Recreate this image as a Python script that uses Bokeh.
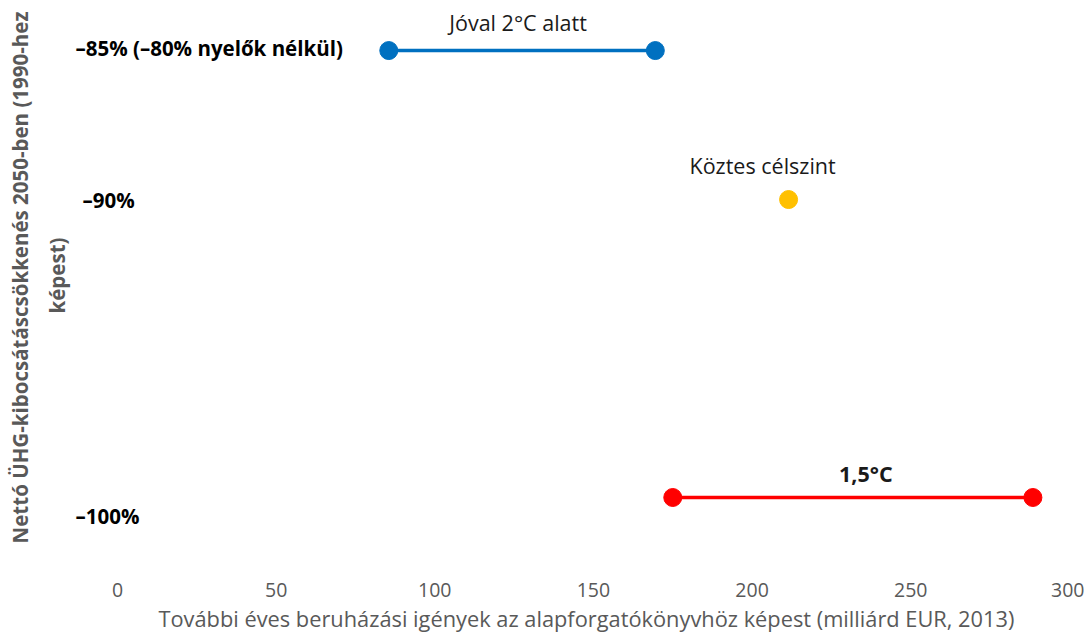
import math
from bokeh.plotting import figure
from bokeh.models import Range1d, FixedTicker, ColumnDataSource, Title
from bokeh.core.properties import value
from bokeh.embed import file_html
from bokeh.resources import INLINE

# Data
blue_x = [85.5, 169.5]
blue_y = [-85, -85]
yellow_x = [211.5]
yellow_y = [-90]
red_x = [175, 288.5]
red_y = [-100, -100]

series_names = ["Jóval 2°C alatt", "Köztes célszint", "1,5°C"]
y_levels = [-85, -90, -100]
y_labels = ["\u201385% (\u201380% nyelők nélkül)", "\u201390%", "\u2013100%"]
x_ticks = [0, 50, 100, 150, 200, 250, 300]
y_title = ["Nettó ÜHG-kibocsátáscsökkenés 2050-ben (1990-hez", "képest)"]
x_title = "További éves beruházási igények az alapforgatókönyvhöz képest (milliárd EUR, 2013)"

FONT = "Open Sans"

x0, x1 = -36.87, 303.5
y0, y1 = -102.45, -83.32

p = figure(width=1084, height=634, output_backend="svg", toolbar_location=None,
           x_range=Range1d(x0, x1), y_range=Range1d(y0, y1),
           min_border_left=0, min_border_right=4, min_border_top=0, min_border_bottom=64)
p.outline_line_color = None
p.grid.visible = False
p.yaxis.visible = False

xa = p.xaxis[0]
xa.ticker = FixedTicker(ticks=x_ticks)
xa.axis_line_color = None
xa.major_tick_line_color = None
xa.minor_tick_line_color = None
xa.major_label_text_font = FONT
xa.major_label_text_font_size = "19.5px"
xa.major_label_text_color = "#595959"
xa.major_label_standoff = 6

# X axis title, placed below the tick labels
xt = Title(text=x_title, align="left", offset=158, text_font=FONT,
           text_font_size="21.8px", text_font_style="normal", text_color="#595959",
           standoff=4)
p.add_layout(xt, "below")

# Y axis title (two lines, rotated)
ymid = (y0 + y1) / 2
tt = ColumnDataSource(dict(x=[x0, x0], y=[ymid, ymid], t=y_title, xo=[19, 56], yo=[-8, -10]))
p.text(x="x", y="y", text="t", x_offset="xo", y_offset="yo", source=tt, angle=math.pi / 2,
       text_font=value(FONT), text_font_size="20.5px", text_font_style="bold",
       text_color="#595959", text_align="center", text_baseline="middle")

# Series
p.line(blue_x, blue_y, line_color="#0070C0", line_width=3.5)
p.scatter(blue_x, blue_y, size=18, fill_color="#0070C0", line_color="#0070C0")
p.scatter(yellow_x, yellow_y, size=18, fill_color="#FFC000", line_color="#FFC000")
p.line(red_x, red_y, line_color="#FF0000", line_width=3.5)
p.scatter(red_x, red_y, size=18, fill_color="#FF0000", line_color="#FF0000")

# Series annotations
ann = ColumnDataSource(dict(
    x=[sum(blue_x) / 2, yellow_x[0], sum(red_x) / 2],
    y=[blue_y[0], yellow_y[0], red_y[0]],
    t=series_names,
    xo=[-4, -26, 13],
    yo=[-28, -34, -24],
    st=["normal", "normal", "bold"],
))
p.text(x="x", y="y", text="t", x_offset="xo", y_offset="yo", source=ann,
       text_font=value(FONT), text_font_size="21.5px", text_color="#1a1a1a",
       text_align="center", text_baseline="middle", text_font_style="st")

# Y level labels
lab = ColumnDataSource(dict(
    x=[0, 0, 0], y=y_levels, t=y_labels,
    xo=[-42, -35, -42], yo=[-3, 0, 19],
))
p.text(x="x", y="y", text="t", x_offset="xo", y_offset="yo", source=lab,
       text_font=value(FONT), text_font_size="20.5px", text_color="#000000",
       text_font_style="bold", text_align="left", text_baseline="middle")

open("out.html", "w").write(file_html(p, INLINE))
